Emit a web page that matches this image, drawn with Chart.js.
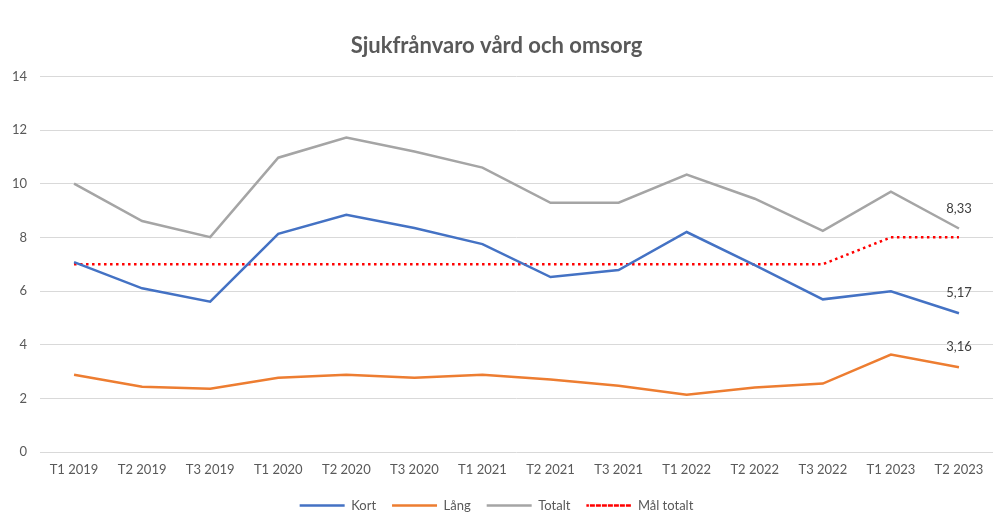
<!DOCTYPE html>
<html>
<head>
<meta charset="utf-8">
<script src="https://cdn.jsdelivr.net/npm/chart.js@4/dist/chart.umd.min.js"></script>
<style>
  html, body { margin: 0; padding: 0; background: #fff; }
  #wrap { width: 1004px; height: 529px; }
</style>
</head>
<body>
<div id="wrap"><canvas id="c"></canvas></div>
<script>
const categories = ['T1 2019', 'T2 2019', 'T3 2019', 'T1 2020', 'T2 2020', 'T3 2020', 'T1 2021',
  'T2 2021', 'T3 2021', 'T1 2022', 'T2 2022', 'T3 2022', 'T1 2023', 'T2 2023'];
const kort   = [7.08, 6.1, 5.6, 8.13, 8.84, 8.35, 7.75, 6.52, 6.78, 8.2, 6.97, 5.69, 5.99, 5.17];
const lang   = [2.88, 2.43, 2.36, 2.77, 2.88, 2.77, 2.88, 2.7, 2.47, 2.13, 2.4, 2.55, 3.63, 3.16];
const totalt = [10.0, 8.61, 8.01, 10.97, 11.72, 11.2, 10.6, 9.29, 9.29, 10.34, 9.44, 8.24, 9.7, 8.33];
const malTotalt = [7, 7, 7, 7, 7, 7, 7, 7, 7, 7, 7, 7, 8, 8];

const textColor = '#595959';
Chart.defaults.font.family = 'Lato, "Open Sans", sans-serif';
Chart.defaults.font.size = 13;
Chart.defaults.color = textColor;

// labels on the last point of Kort, Lång, Totalt
const lastLabels = {
  id: 'lastLabels',
  afterDatasetsDraw(chart) {
    const ctx = chart.ctx;
    ctx.save();
    ctx.font = '13px Lato, sans-serif';
    ctx.fillStyle = '#404040';
    ctx.textAlign = 'center';
    ctx.textBaseline = 'middle';
    [0, 1, 2].forEach(i => {
      const meta = chart.getDatasetMeta(i);
      const pt = meta.data[meta.data.length - 1];
      const v = chart.data.datasets[i].data[meta.data.length - 1];
      ctx.fillText(v.toFixed(2).replace('.', ','), pt.x, pt.y - 20);
    });
    ctx.restore();
  }
};

new Chart(document.getElementById('c'), {
  type: 'line',
  data: {
    labels: categories,
    datasets: [
      { label: 'Kort', data: kort, borderColor: '#4472C4', backgroundColor: '#4472C4' },
      { label: 'Lång', data: lang, borderColor: '#ED7D31', backgroundColor: '#ED7D31' },
      { label: 'Totalt', data: totalt, borderColor: '#A5A5A5', backgroundColor: '#A5A5A5' },
      { label: 'Mål totalt', data: malTotalt, borderColor: '#FF0000', backgroundColor: 'rgba(0,0,0,0)',
        borderDash: [2.5, 3.5] }
    ]
  },
  options: {
    responsive: true,
    maintainAspectRatio: false,
    animation: false,
    layout: { padding: { left: 0, right: 11, top: 0, bottom: 7 } },
    elements: {
      line: { borderWidth: 2.5, tension: 0, fill: false },
      point: { radius: 0, hoverRadius: 0 }
    },
    plugins: {
      title: {
        display: true,
        text: 'Sjukfrånvaro vård och omsorg',
        color: textColor,
        font: { size: 22, weight: 'bold' },
        padding: { top: 33, bottom: 17 }
      },
      legend: {
        position: 'bottom',
        labels: { boxWidth: 45, boxHeight: 0, padding: 16, color: textColor }
      },
      tooltip: { enabled: false }
    },
    scales: {
      x: {
        offset: true,
        grid: { display: false, drawTicks: false },
        border: { display: false },
        ticks: { padding: 10, maxRotation: 0, autoSkip: false },
        afterFit(scale) { scale.height = 31; }
      },
      y: {
        min: 0, max: 14,
        grid: { color: '#D9D9D9', lineWidth: 1, drawTicks: false },
        border: { display: false },
        ticks: { stepSize: 2, padding: 13 },
        afterFit(scale) { scale.width = 40; }
      }
    }
  },
  plugins: [lastLabels]
});
</script>
</body>
</html>
